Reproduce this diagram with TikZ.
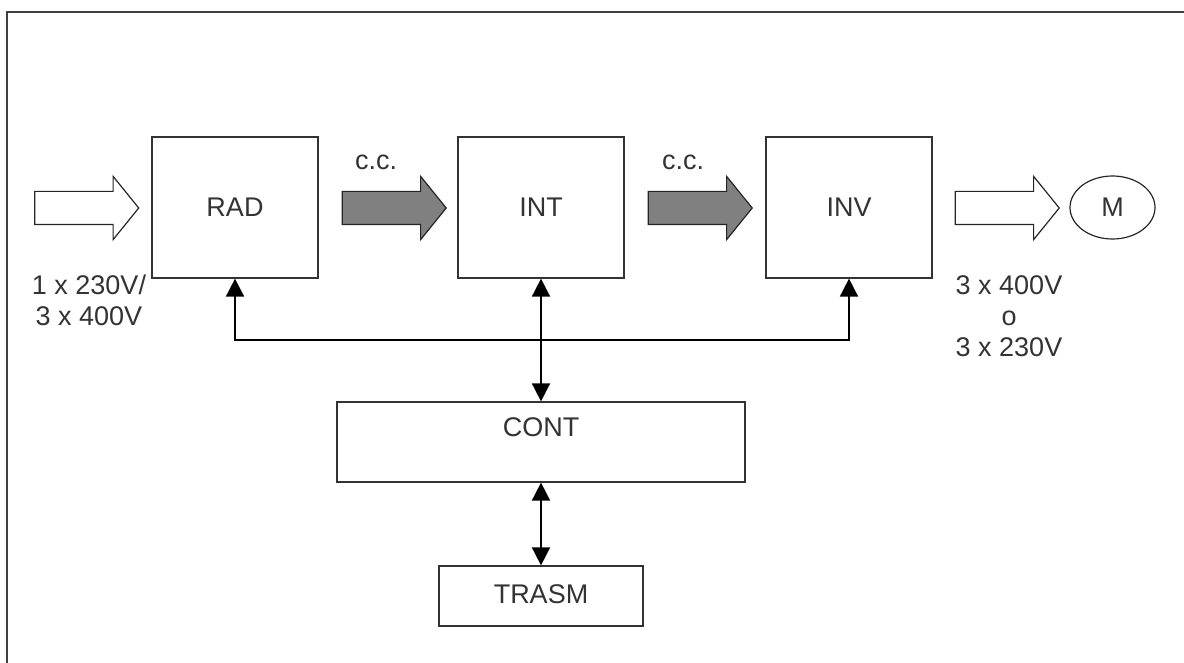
\documentclass[tikz,border=0pt]{standalone}
\usepackage{fontspec}
\setmainfont{Liberation Sans}
\usetikzlibrary{arrows.meta,shapes.geometric,shapes.arrows}

\begin{document}
\begin{tikzpicture}[x=0.5pt,y=-0.5pt,
    every node/.style={font=\fontsize{13.5}{15.5}\selectfont, text=black!80},
    blocco/.style={draw=black!80, line width=0.6pt, inner sep=0pt,
        minimum width=83pt, minimum height=70.5pt},
    freccia/.style={single arrow, draw=black!85, line width=0.6pt, inner sep=0pt,
        inner ysep=8pt, minimum height=52pt, single arrow head extend=7.5pt,
        single arrow tip angle=102},
    legame/.style={line width=0.8pt,
        {Triangle[length=9pt,width=9pt]}-{Triangle[length=9pt,width=9pt]}}]

\useasboundingbox (0,0) rectangle (1184,663);

% Cornice
\draw[black!75, line width=1pt] (1184,12) -| (7,663);

% Blocchi principali
\node[blocco] (rad) at (235,207.5) {RAD};
\node[blocco] (int) at (541,207.5) {INT};
\node[blocco] (inv) at (849,207.5) {INV};
\node[ellipse, draw=black!85, line width=0.6pt, inner sep=0pt,
    minimum width=42.5pt, minimum height=31.5pt] (mot) at (1112.5,207.5) {M};

% Frecce di potenza
\node[freccia, fill=white] (ingresso) at (80,208) {};
\node[freccia, fill=black!50] (cc1) at (387.5,208) {};
\node[freccia, fill=black!50] (cc2) at (693.5,208) {};
\node[freccia, fill=white] (uscita) at (1000.5,208) {};

\node[anchor=base] (lcc1) at (376,170) {c.c.};
\node[anchor=base] (lcc2) at (683,170) {c.c.};

% Tensioni
\node[anchor=north, align=center, inner sep=0pt] (vin) at (89,275)
    {1 x 230V/\\3 x 400V};
\node[anchor=north, align=center, inner sep=0pt] (vout) at (1009,275)
    {3 x 400V\\o\\3 x 230V};

% Controllo e trasmissione
\node[blocco, minimum width=204pt, minimum height=40pt,
    text height=10pt, text depth=15pt] (cont) at (541,442) {CONT};
\node[blocco, minimum width=102pt, minimum height=30pt,
    text depth=2pt] (trasm) at (541,596) {TRASM};

% Collegamenti
\coordinate (bus) at (541,340);
\draw[legame] (rad.south) |- (bus) -| (inv.south);
\draw[legame] (int.south) -- (cont.north);
\draw[legame] (cont.south) -- (trasm.north);

\end{tikzpicture}
\end{document}
